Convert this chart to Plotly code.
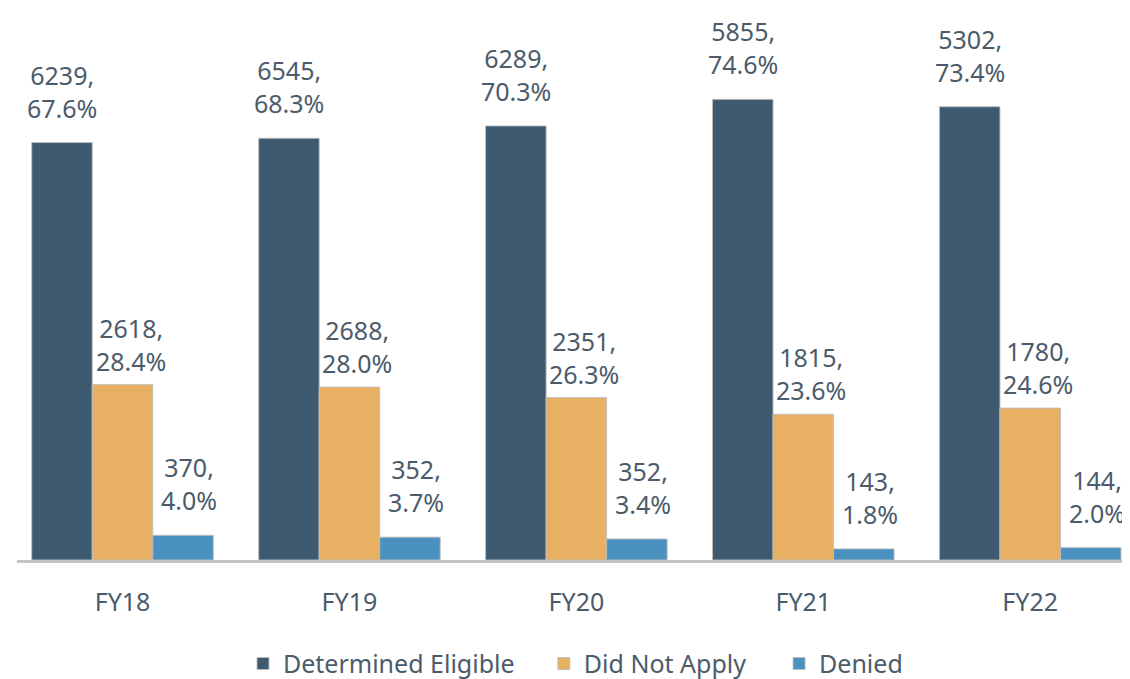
import plotly.graph_objects as go

categories = ["FY18", "FY19", "FY20", "FY21", "FY22"]
series_names = ["Determined Eligible", "Did Not Apply", "Denied"]
eligible_counts = [6239, 6545, 6289, 5855, 5302]
eligible_pct = [67.6, 68.3, 70.3, 74.6, 73.4]
notapply_counts = [2618, 2688, 2351, 1815, 1780]
notapply_pct = [28.4, 28.0, 26.3, 23.6, 24.6]
denied_counts = [370, 352, 352, 143, 144]
denied_pct = [4.0, 3.7, 3.4, 1.8, 2.0]

colors = ["#3d5a71", "#e8b062", "#4a91c0"]
text_color = "#4b5b6b"

W, H = 1130, 679
ML, MR, MT, MB = 9, 0, 58, 122
xrange_ = [-0.465, 4.475]
bargap = 0.2
px_per_unit = (W - ML - MR) / (xrange_[1] - xrange_[0])
bar_px = (1 - bargap) / 3 * px_per_unit

label_xshift_extra = [0, 8, 6]
label_yshift = [16, 5, 16]
legend_ids = ["legend", "legend2", "legend3"]
legend_x = [0.2016, 0.470, 0.6798]

fig = go.Figure()
annotations = []
for i, (name, counts, pcts, col) in enumerate(zip(
    series_names,
    [eligible_counts, notapply_counts, denied_counts],
    [eligible_pct, notapply_pct, denied_pct],
    colors,
)):
    fig.add_trace(go.Bar(
        name=name,
        x=categories,
        y=pcts,
        legend=legend_ids[i],
        marker=dict(color=col, line=dict(color="rgba(190,190,190,0.9)", width=1)),
        hoverinfo="skip",
    ))
    for cat, c, p in zip(categories, counts, pcts):
        annotations.append(dict(
            x=cat, y=p, xref="x", yref="y",
            text=f"{c},<br>{p:.1f}%",
            showarrow=False,
            xanchor="center", yanchor="bottom",
            xshift=(i - 1) * bar_px + label_xshift_extra[i],
            yshift=label_yshift[i],
            font=dict(family="Noto Sans", size=25, color=text_color),
        ))

legend_common = dict(
    orientation="h",
    xanchor="left",
    y=-0.21,
    yanchor="middle",
    font=dict(family="Noto Sans", size=25, color=text_color),
    bgcolor="rgba(0,0,0,0)",
)

fig.update_layout(
    width=W,
    height=H,
    barmode="group",
    bargap=bargap,
    bargroupgap=0,
    plot_bgcolor="white",
    paper_bgcolor="white",
    margin=dict(l=ML, r=MR, t=MT, b=MB),
    font=dict(family="Noto Sans", color=text_color),
    annotations=annotations,
    showlegend=True,
    legend=dict(x=legend_x[0], **legend_common),
    legend2=dict(x=legend_x[1], **legend_common),
    legend3=dict(x=legend_x[2], **legend_common),
    xaxis=dict(
        range=xrange_,
        showline=True,
        linecolor="#c4c4c4",
        linewidth=3,
        showgrid=False,
        ticks="",
        tickfont=dict(family="Noto Sans", size=25, color=text_color),
        ticklabelstandoff=18,
    ),
    yaxis=dict(
        range=[0, 80],
        visible=False,
        showgrid=False,
        zeroline=False,
    ),
)

fig.write_html("out.html")
